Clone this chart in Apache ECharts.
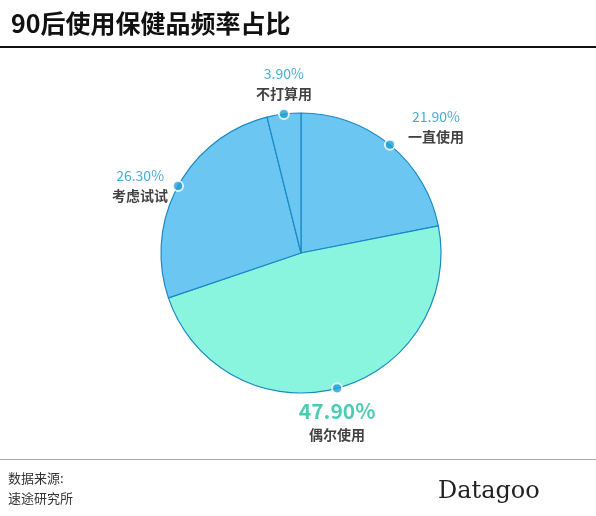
<!DOCTYPE html><html><head><meta charset="utf-8"><script src="https://cdn.jsdelivr.net/npm/echarts@6/dist/echarts.min.js"></script>
<style>html,body{margin:0;background:#fff}#c{width:596px;height:516px}</style></head><body><div id="c"></div><script>
const categories=['一直使用','偶尔使用','考虑试试','不打算用'];
const values=[21.9,47.9,26.3,3.9];
const colors=['#6cc6f2','#8af5de','#6cc6f2','#6cc6f2'];
const labelPos=['right','bottom','left','top'];
const total=values.reduce((a,b)=>a+b,0);
let acc=0;const mids=values.map(v=>{const m=acc+v/2;acc+=v;return m/total*100;});
const chart=echarts.init(document.getElementById('c'));
const F='"Noto Sans CJK SC",sans-serif';
chart.setOption({
 animation:false,
 title:{text:'90后使用保健品频率占比',left:6,top:6,textStyle:{fontFamily:F,fontSize:25,fontWeight:'bold',color:'#111'}},
 polar:{center:[301,253],radius:140},
 angleAxis:{type:'value',min:0,max:100,startAngle:90,clockwise:true,show:false},
 radiusAxis:{type:'value',min:0,max:1,show:false},
 series:[
 {type:'pie',center:[301,253],radius:140,startAngle:90,clockwise:true,label:{show:false},labelLine:{show:false},
  itemStyle:{borderColor:'#1a8ac4',borderWidth:1.2},
  data:categories.map((c,i)=>({name:c,value:values[i],itemStyle:{color:colors[i]}}))},
 {type:'scatter',coordinateSystem:'polar',symbolSize:10,itemStyle:{color:'#1d9fd6',borderColor:'#fff',borderWidth:2},z:5,
  data:categories.map((c,i)=>({value:[1,mids[i]],label:{show:true,position:labelPos[i],distance:i===0?12:4,offset:i===0?[0,-18]:[0,0],
   formatter:(i===1?'{b|':'{p|')+values[i].toFixed(2)+'%}\n{n|'+c+'}',
   rich:{p:{fontFamily:F,fontSize:14,color:'#1a98cc',align:'center',lineHeight:20},
         b:{fontFamily:F,fontSize:21,fontWeight:'bold',color:'#1fbf9f',align:'center',lineHeight:26},
         n:{fontFamily:F,fontSize:14,fontWeight:'bold',color:'#111',align:'center',lineHeight:20}}}}))}
 ],
 graphic:[
  {type:'rect',shape:{x:0,y:46,width:596,height:2},style:{fill:'#111'}},
  {type:'rect',shape:{x:0,y:459,width:596,height:1},style:{fill:'#aaa'}},
  {type:'text',left:8,top:468,style:{text:'数据来源:\n速途研究所',font:'13px "Noto Sans CJK SC"',fill:'#333',lineHeight:20}},
  {type:'text',left:438,top:480,style:{text:'Datagoo',font:'24px "DejaVu Serif"',fill:'#222'}}
 ]
});
</script></body></html>
